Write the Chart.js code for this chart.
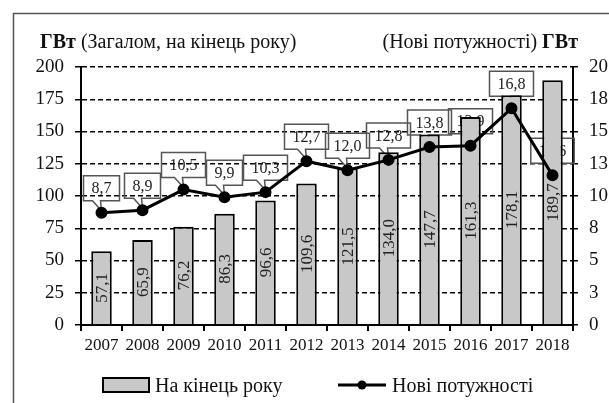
<!DOCTYPE html>
<html>
<head>
<meta charset="utf-8">
<script src="https://cdn.jsdelivr.net/npm/chart.js@4.4.1/dist/chart.umd.min.js"></script>
<style>
  html, body { margin: 0; background: #fff; }
  #wrap { width: 609px; height: 403px; }
</style>
</head>
<body>
<div id="wrap"><canvas id="chart" width="609" height="403"></canvas></div>
<script>
const years = ["2007", "2008", "2009", "2010", "2011", "2012", "2013", "2014", "2015", "2016", "2017", "2018"];
// total installed capacity at year end, GW (left axis)
const totalCapacity = [57.1, 65.9, 76.2, 86.3, 96.6, 109.6, 121.5, 134.0, 147.7, 161.3, 178.1, 189.7];
// new capacity added during the year, GW (right axis)
const newCapacity = [8.7, 8.9, 10.5, 9.9, 10.3, 12.7, 12.0, 12.8, 13.8, 13.9, 16.8, 11.6];
const rightTickLabels = ["0", "3", "5", "8", "10", "13", "15", "18", "20"];

const serif = '"Liberation Serif", "Times New Roman", serif';
const ink = "#111";
const fmt = (v) => v.toFixed(1).replace(".", ",");

const calloutPlugin = {
  id: "callouts",
  beforeDatasetsDraw(chart) {
    const ctx = chart.ctx;
    const meta = chart.getDatasetMeta(1);
    ctx.save();
    ctx.font = "16px " + serif;
    meta.data.forEach((pt, i) => {
      const text = fmt(newCapacity[i]);
      const w = ctx.measureText(text).width + 16;
      const h = 25;
      const cx = pt.x;
      const bottom = pt.y - 12;
      const top = bottom - h;
      const left = cx - w / 2;
      ctx.beginPath();
      ctx.moveTo(left, top);
      ctx.lineTo(left + w, top);
      ctx.lineTo(left + w, bottom);
      ctx.lineTo(cx - 1, bottom);
      ctx.lineTo(pt.x, pt.y - 2);
      ctx.lineTo(cx - 9, bottom);
      ctx.lineTo(left, bottom);
      ctx.closePath();
      ctx.strokeStyle = "#555";
      ctx.lineWidth = 1.5;
      ctx.stroke();
      ctx.fillStyle = "#222";
      ctx.textAlign = "center";
      ctx.textBaseline = "middle";
      ctx.fillText(text, cx, top + h / 2 + 1);
    });
    ctx.restore();
  },
  afterDatasetDraw(chart, args) {
    if (args.index !== 0) return;
    const ctx = chart.ctx;
    ctx.save();
    ctx.font = "17px " + serif;
    ctx.fillStyle = "#222";
    ctx.textAlign = "center";
    ctx.textBaseline = "middle";
    args.meta.data.forEach((bar, i) => {
      ctx.save();
      ctx.translate(bar.x + 1, (bar.y + bar.base) / 2);
      ctx.rotate(-Math.PI / 2);
      ctx.fillText(fmt(totalCapacity[i]), 0, 0);
      ctx.restore();
    });
    ctx.restore();
  },
  afterDraw(chart) {
    const ctx = chart.ctx;
    ctx.save();
    // frame
    ctx.strokeStyle = "#555";
    ctx.lineWidth = 1.5;
    ctx.strokeRect(13.5, 13.5, 700, 500);

    // axis titles
    ctx.fillStyle = ink;
    ctx.textBaseline = "alphabetic";
    ctx.textAlign = "left";
    ctx.font = "bold 20px " + serif;
    ctx.fillText("ГВт", 40, 48);
    const x = 40 + ctx.measureText("ГВт").width;
    ctx.font = "20px " + serif;
    ctx.fillText(" (Загалом, на кінець року)", x, 48);

    ctx.font = "bold 20px " + serif;
    const unitW = ctx.measureText("ГВт").width;
    ctx.textAlign = "right";
    ctx.fillText("ГВт", 578, 48);
    ctx.font = "20px " + serif;
    ctx.fillText("(Нові потужності) ", 578 - unitW, 48);

    // legend
    ctx.fillStyle = "#c8c8c8";
    ctx.fillRect(103, 378, 46, 14);
    ctx.strokeStyle = "#000";
    ctx.lineWidth = 2;
    ctx.strokeRect(103, 378, 46, 14);
    ctx.fillStyle = ink;
    ctx.textAlign = "left";
    ctx.font = "20px " + serif;
    ctx.fillText("На кінець року", 155, 392);

    ctx.beginPath();
    ctx.moveTo(338, 385);
    ctx.lineTo(386, 385);
    ctx.lineWidth = 3;
    ctx.stroke();
    ctx.beginPath();
    ctx.arc(362, 385, 4.5, 0, Math.PI * 2);
    ctx.fillStyle = "#000";
    ctx.fill();
    ctx.fillStyle = ink;
    ctx.textAlign = "left";
    ctx.font = "20px " + serif;
    ctx.fillText("Нові потужності", 392, 392);
    ctx.restore();
  }
};

new Chart(document.getElementById("chart"), {
  type: "bar",
  data: {
    labels: years,
    datasets: [
      {
        type: "bar",
        label: "На кінець року",
        data: totalCapacity,
        yAxisID: "y",
        backgroundColor: "#c8c8c8",
        borderColor: "#000",
        borderWidth: 2,
        categoryPercentage: 1,
        barPercentage: 0.5,
        order: 2
      },
      {
        type: "line",
        label: "Нові потужності",
        data: newCapacity,
        yAxisID: "y1",
        borderColor: "#000",
        borderWidth: 3,
        pointRadius: 4.5,
        pointBackgroundColor: "#000",
        pointBorderColor: "#000",
        tension: 0,
        order: 1
      }
    ]
  },
  options: {
    responsive: false,
    animation: false,
    layout: { padding: { top: 67, left: 0, right: 0, bottom: 0 } },
    plugins: { legend: { display: false }, tooltip: { enabled: false } },
    scales: {
      x: {
        offset: true,
        grid: { offset: true, drawOnChartArea: false, drawTicks: true, tickLength: 6, color: "#000", lineWidth: 2 },
        border: { display: true, color: "#000", width: 2 },
        ticks: { font: { family: serif, size: 17 }, color: ink, padding: 4, maxRotation: 0, autoSkip: false },
        afterFit: (s) => { s.height = 78; }
      },
      y: {
        position: "left",
        min: 0,
        max: 200,
        ticks: { stepSize: 25, font: { family: serif, size: 19 }, color: ink, padding: 11 },
        grid: { color: "#000", lineWidth: 1.5, tickLength: 6, tickColor: "#000", tickWidth: 1.5 },
        border: { display: true, color: "#000", width: 2, dash: [5, 3] },
        afterFit: (s) => { s.width = 81; }
      },
      y1: {
        position: "right",
        min: 0,
        max: 20,
        ticks: {
          stepSize: 2.5,
          font: { family: serif, size: 19 },
          color: ink,
          padding: 11,
          callback: (v, i) => rightTickLabels[i]
        },
        grid: { drawOnChartArea: false, tickLength: 5, color: "#000", lineWidth: 1.5 },
        border: { display: true, color: "#000", width: 2 },
        afterFit: (s) => { s.width = 36; }
      }
    }
  },
  plugins: [calloutPlugin]
});
</script>
</body>
</html>
